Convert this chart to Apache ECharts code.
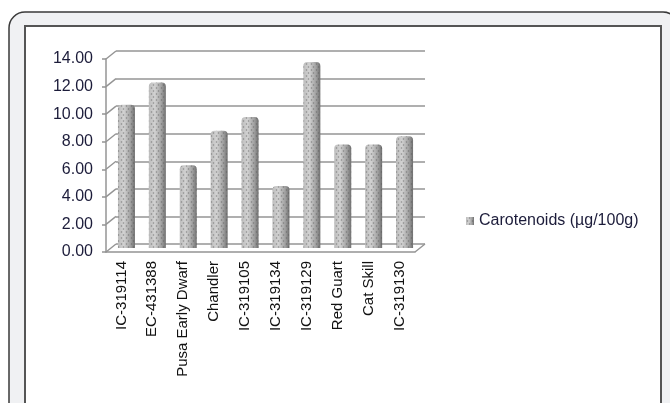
<!DOCTYPE html>
<html>
<head>
<meta charset="utf-8">
<script src="https://cdn.jsdelivr.net/npm/echarts@6/dist/echarts.min.js"></script>
<style>
  html, body { margin: 0; padding: 0; background: #fff; }
  #chart { width: 670px; height: 403px; }
</style>
</head>
<body>
<div id="chart"></div>
<script>
var categories = ['IC-319114', 'EC-431388', 'Pusa Early Dwarf', 'Chandler', 'IC-319105',
                  'IC-319134', 'IC-319129', 'Red Guart', 'Cat Skill', 'IC-319130'];
var carotenoids = [10.4, 12.0, 6.0, 8.5, 9.5, 4.5, 13.5, 7.5, 7.5, 8.1];
var yTicks = [0, 2, 4, 6, 8, 10, 12, 14];
var seriesName = 'Carotenoids (µg/100g)';

var myChart = echarts.init(document.getElementById('chart'));

var textColor = '#1c1c3a';
var lineColor = '#949494';
var font = 'Liberation Sans';

// depth of the fake 3d box
var dx = 10, dy = -8;

var gridFront = { left: 106, top: 59, width: 309, height: 193 };
var gridBack = { left: 106 + dx, top: 59 + dy, width: 309, height: 193 };
var gridBars = { left: 106 + dx / 2, top: 59 + dy / 2, width: 309, height: 193 };

var barFill = new echarts.graphic.LinearGradient(0, 0, 1, 0, [
    { offset: 0, color: '#bdbdbd' },
    { offset: 0.35, color: '#d2d2d2' },
    { offset: 0.75, color: '#a0a0a0' },
    { offset: 1, color: '#707070' }
]);

option = {
    animation: false,
    backgroundColor: '#ffffff',
    textStyle: { fontFamily: font },
    graphic: [
        {
            type: 'rect', z: -20,
            shape: { x: 9, y: 12, width: 670, height: 430, r: 16 },
            style: { fill: '#f0f1f3', stroke: '#3a3a3a', lineWidth: 1.5 }
        },
        {
            type: 'rect', z: -19,
            shape: { x: 25, y: 26, width: 636, height: 420 },
            style: { fill: '#ffffff', stroke: '#555555', lineWidth: 2 }
        }
    ],
    legend: {
        left: 461, top: 208,
        itemWidth: 8, itemHeight: 8, itemGap: 4,
        icon: 'rect',
        textStyle: { color: textColor, fontSize: 16, fontFamily: font },
        data: [seriesName]
    },
    grid: [gridFront, gridBack, gridBars],
    xAxis: [
        {
            gridIndex: 0, type: 'category', data: categories,
            axisLine: { lineStyle: { color: lineColor, width: 1.5 } },
            axisTick: { length: 6, lineStyle: { color: lineColor, width: 1.5 } },
            axisLabel: { rotate: 90, margin: 9, color: '#111', fontSize: 15, fontFamily: font }
        },
        { gridIndex: 1, type: 'category', data: categories, show: false },
        { gridIndex: 2, type: 'category', data: categories, show: false }
    ],
    yAxis: [
        {
            gridIndex: 0, type: 'value', min: 0, max: 14, interval: 2,
            axisLine: { show: true, lineStyle: { color: lineColor, width: 1.5 } },
            axisTick: { show: true, length: 4, lineStyle: { color: lineColor, width: 1.5 } },
            splitLine: { show: false },
            axisLabel: {
                margin: 13, color: textColor, fontSize: 16, fontFamily: font,
                formatter: function (v) { return v.toFixed(2); }
            }
        },
        {
            gridIndex: 1, type: 'value', min: 0, max: 14, interval: 2,
            axisLine: { show: false }, axisTick: { show: false }, axisLabel: { show: false },
            splitLine: { show: true, lineStyle: { color: lineColor, width: 1.5 } }
        },
        {
            gridIndex: 2, type: 'value', min: 0, max: 14, interval: 2, show: false,
            splitLine: { show: false }
        }
    ],
    series: [
        {
            // slanted connectors between front axis and back wall
            type: 'custom', xAxisIndex: 0, yAxisIndex: 0, silent: true,
            data: yTicks.map(function (v) { return [0, v]; }),
            renderItem: function (params, api) {
                var cs = params.coordSys;
                var y = api.coord([0, api.value(1)])[1];
                var kids = [{
                    type: 'line',
                    shape: { x1: cs.x, y1: y, x2: cs.x + dx, y2: y + dy },
                    style: { stroke: lineColor, lineWidth: 1.5 }
                }];
                if (api.value(1) === 0) {
                    kids.push({
                        type: 'line',
                        shape: { x1: cs.x + cs.width, y1: y, x2: cs.x + cs.width + dx, y2: y + dy },
                        style: { stroke: lineColor, lineWidth: 1.5 }
                    });
                }
                return { type: 'group', children: kids };
            }
        },
        {
            name: seriesName, type: 'bar', xAxisIndex: 2, yAxisIndex: 2,
            barWidth: 17,
            data: carotenoids,
            itemStyle: {
                color: barFill,
                borderRadius: [4, 4, 0, 0],
                decal: {
                    symbol: 'circle',
                    symbolSize: 0.8,
                    color: 'rgba(85,85,85,0.55)',
                    dashArrayX: [[3, 2], [0, 2, 3, 0]],
                    dashArrayY: [2, 1],
                    rotation: 0
                }
            }
        }
    ]
};

myChart.setOption(option, true);
</script>
</body>
</html>
